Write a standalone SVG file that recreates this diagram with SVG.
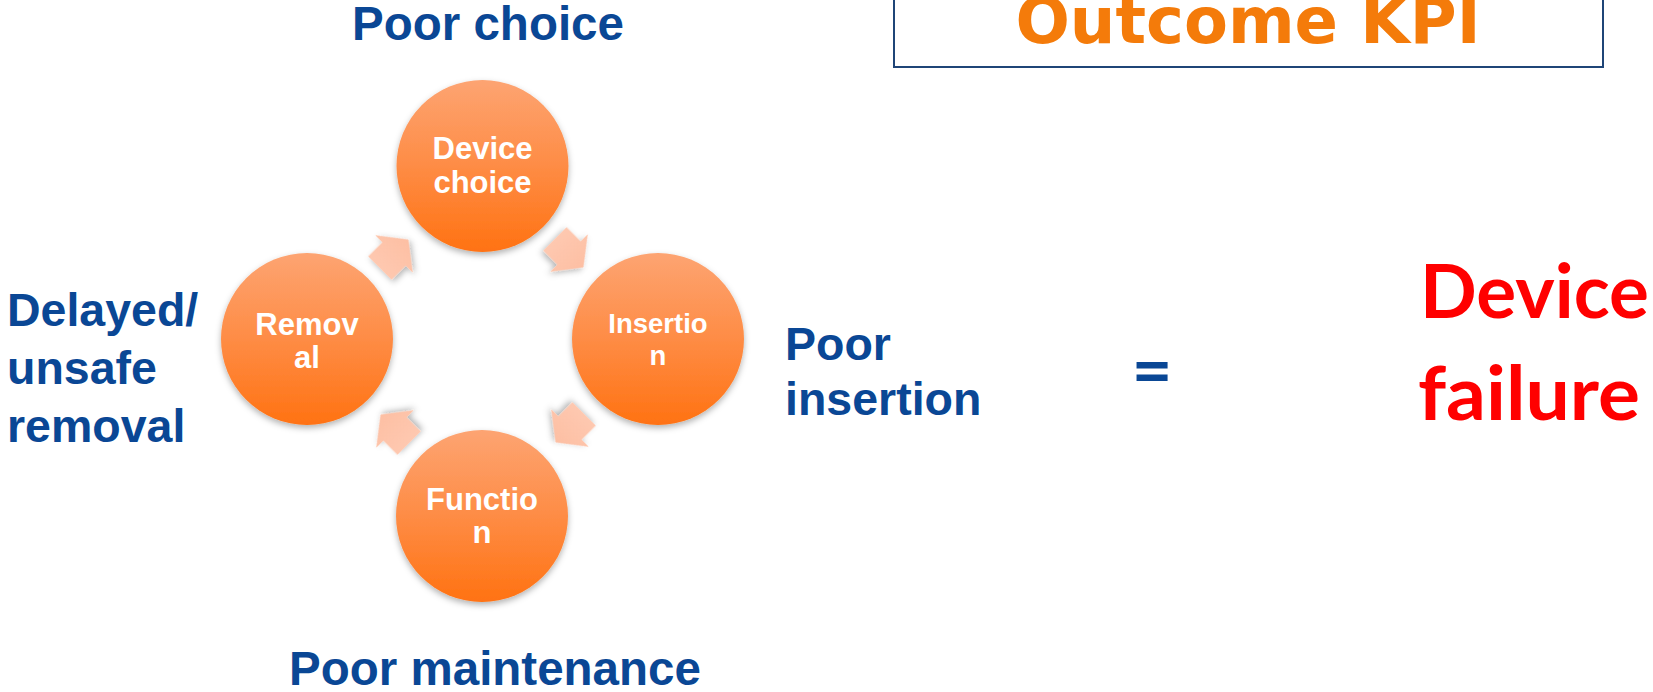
<svg xmlns="http://www.w3.org/2000/svg" width="1653" height="692" viewBox="0 0 1653 692">
  <style>
    .lbl { font-family: "Liberation Sans", Arial, sans-serif; font-weight: bold; fill: #0A4795; }
    .ctext { font-family: "Liberation Sans", Arial, sans-serif; font-weight: bold; fill: #ffffff; text-anchor: middle; }
    .stage { fill: url(#stageFill); filter: url(#softShadow); }
    .step { fill: url(#stepFill); filter: url(#softShadow); }
  </style>
  <defs>
    <linearGradient id="stageFill" x1="0" y1="0" x2="0" y2="1">
      <stop offset="0" stop-color="#FDA472"/>
      <stop offset="0.5" stop-color="#FE8C45"/>
      <stop offset="1" stop-color="#FF7212"/>
    </linearGradient>
    <linearGradient id="stepFill" x1="0" y1="0" x2="1" y2="0">
      <stop offset="0" stop-color="#FEC8B0"/>
      <stop offset="1" stop-color="#FDBFA3"/>
    </linearGradient>
    <filter id="softShadow" x="-30%" y="-30%" width="160%" height="170%">
      <feDropShadow dx="0" dy="3" stdDeviation="3" flood-color="#000000" flood-opacity="0.3"/>
    </filter>
    <!-- block arrow pointing along +x, centred on the origin -->
    <path id="stepArrow" d="M-20,-16.6 L0,-16.6 L0,-26.6 L20.4,0 L0,26.6 L0,16.6 L-20,16.6 Z"/>
  </defs>

  <rect width="1653" height="692" fill="#ffffff"/>

  <!-- title box -->
  <g id="outcome-kpi">
    <rect x="894" y="-10" width="709" height="77" fill="#ffffff" stroke="#1F4577" stroke-width="2"/>
    <text x="1248" y="43" text-anchor="middle" font-family="DejaVu Sans, Verdana, sans-serif" font-weight="bold" font-size="64" fill="#F47B0A">Outcome KPI</text>
  </g>

  <!-- cycle arrows between stages -->
  <g id="connectors">
    <use href="#stepArrow" class="step" transform="translate(394,254) rotate(-45)"/>
    <use href="#stepArrow" class="step" transform="translate(569,253) rotate(45)"/>
    <use href="#stepArrow" class="step" transform="translate(570,428) rotate(135)"/>
    <use href="#stepArrow" class="step" transform="translate(395,429) rotate(-135)"/>
  </g>

  <!-- stages -->
  <g id="device-choice">
    <circle class="stage" cx="482.5" cy="166" r="86"/>
    <text class="ctext" x="482.5" y="159" font-size="31">Device</text>
    <text class="ctext" x="482.5" y="193" font-size="31">choice</text>
  </g>
  <g id="insertion">
    <circle class="stage" cx="658" cy="339" r="86"/>
    <text class="ctext" x="658" y="333" font-size="27.5">Insertio</text>
    <text class="ctext" x="658" y="365" font-size="27.5">n</text>
  </g>
  <g id="function">
    <circle class="stage" cx="482" cy="516" r="86"/>
    <text class="ctext" x="482" y="510" font-size="31">Functio</text>
    <text class="ctext" x="482" y="543" font-size="31">n</text>
  </g>
  <g id="removal">
    <circle class="stage" cx="307" cy="339" r="86"/>
    <text class="ctext" x="307" y="335" font-size="31">Remov</text>
    <text class="ctext" x="307" y="368" font-size="31">al</text>
  </g>

  <!-- failure-mode labels -->
  <g id="label-choice">
    <text class="lbl" x="488" y="40" font-size="47.5" text-anchor="middle">Poor choice</text>
  </g>
  <g id="label-insertion">
    <text class="lbl" x="785" y="360" font-size="46.5">Poor</text>
    <text class="lbl" x="785" y="415" font-size="46.5">insertion</text>
  </g>
  <g id="label-maintenance">
    <text class="lbl" x="495" y="685" font-size="47.5" text-anchor="middle">Poor maintenance</text>
  </g>
  <g id="label-removal">
    <text class="lbl" x="7" y="326" font-size="46.5">Delayed/</text>
    <text class="lbl" x="7" y="384" font-size="46.5">unsafe</text>
    <text class="lbl" x="7" y="442" font-size="46.5">removal</text>
  </g>

  <!-- result -->
  <g id="equals">
    <text x="1152" y="395" text-anchor="middle" font-family="Lato, 'Liberation Sans', sans-serif" font-weight="bold" font-size="70" fill="#0A4795">=</text>
  </g>
  <g id="device-failure">
    <text x="1420" y="318" font-family="Lato, 'Open Sans', sans-serif" font-weight="bold" font-size="75" fill="#FF0000" textLength="229" lengthAdjust="spacingAndGlyphs">Device</text>
    <text x="1418" y="420" font-family="Lato, 'Open Sans', sans-serif" font-weight="bold" font-size="75" fill="#FF0000" textLength="222" lengthAdjust="spacingAndGlyphs">failure</text>
  </g>
</svg>
